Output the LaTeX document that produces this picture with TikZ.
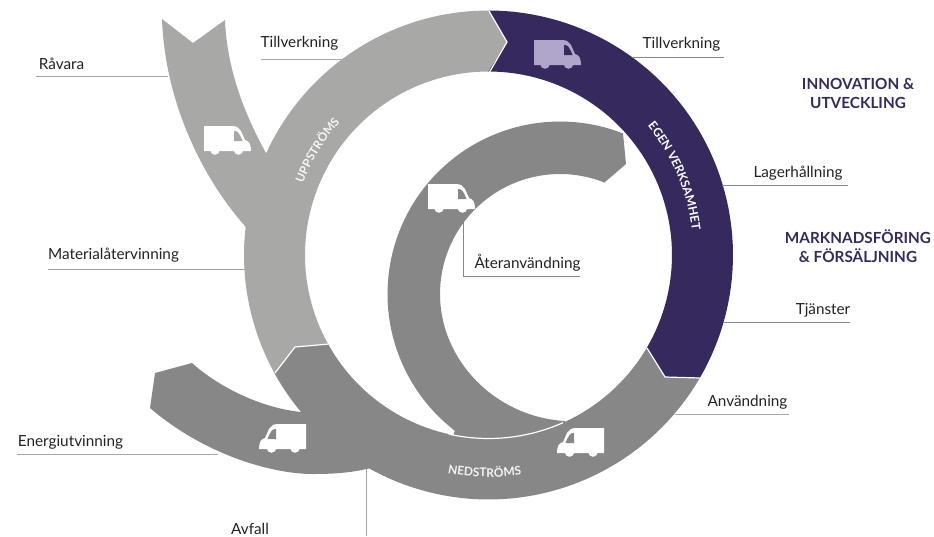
\documentclass[tikz,border=0pt]{standalone}
\usepackage{fontspec}
\setmainfont{Lato}
\usetikzlibrary{decorations.text}
\definecolor{lgrey}{HTML}{A8A8A6}
\definecolor{dgrey}{HTML}{878787}
\definecolor{band}{HTML}{35295E}
\definecolor{lpurple}{HTML}{B0A6CC}
\definecolor{leadg}{HTML}{A6A6A6}
\definecolor{leadp}{HTML}{8A84A8}
\definecolor{ink}{HTML}{222222}
\newcommand{\ringcx}{488.5}
\newcommand{\ringcy}{255}
\newcommand{\spicx}{560}
\newcommand{\spicy}{294}
\tikzset{
  x=1pt,y=-1pt,
  lab/.style={font=\fontsize{15.3}{17}\selectfont,text=ink,inner sep=0pt,anchor=center},
  head/.style={font=\fontsize{15.3}{17}\selectfont\bfseries,text=band,inner sep=0pt,anchor=center},
  leadgrey/.style={draw=leadg,line width=0.9pt},
  leadpurple/.style={draw=leadp,line width=0.9pt},
  sep/.style={draw=white,line width=1.2pt,line join=miter},
  pics/truck/.style 2 args={code={
    \fill[#1] (0,0) -- (28,0) .. controls (33,0) and (35,2) .. (37,5)
      -- (41,14) .. controls (45,15) and (47,18) .. (47,25)
      -- (0,25) -- cycle;
    \fill[#1] (11,24) circle (4.8) (34.5,24) circle (4.8);
    \fill[#2] (30,5) -- (33,5.5) .. controls (35,7) and (37,11) .. (38.5,15) -- (30,15) -- cycle;
  }}
}
\begin{document}
\begin{tikzpicture}
\useasboundingbox (0,0) rectangle (934,536);
% inner spiral
\fill[dgrey] (623,133) -- (626,164) -- (605,182)
  -- plot[domain=-68:-180,samples=50] ({\spicx+120*cos(\x)},{\spicy+120*sin(\x)})
  .. controls (440,360) and (495,417) .. (565,421)
  -- (560,450) -- (470,450) -- (453,436)
  -- plot[domain=-232.4:-68.6,samples=70] ({\spicx+172.5*cos(\x)},{\spicy+172.5*sin(\x)})
  -- cycle;
% upstream
\fill[lgrey] (162,19) -- (193,43) -- (225,20)
  .. controls (227,70) and (245,115) .. (266,153)
  -- plot[domain=-155.4:-90,samples=40] ({\ringcx+244.5*cos(\x)},{\ringcy+244.5*sin(\x)})
  -- (507,42) -- (489,73)
  -- plot[domain=-90:-209.2,samples=60] ({\ringcx+183.5*cos(\x)},{\ringcy+183.5*sin(\x)})
  -- (295,347) -- (275,373)
  -- plot[domain=-209:-173.4,samples=20] ({\ringcx+244.5*cos(\x)},{\ringcy+244.5*sin(\x)})
  .. controls (200,175) and (165,100) .. (162,19) -- cycle;
% own operations
\fill[band] (489,11)
  -- plot[domain=-90:30.2,samples=60] ({\ringcx+244.5*cos(\x)},{\ringcy+244.5*sin(\x)})
  -- (665,377) -- (647,348)
  -- plot[domain=30.4:-90,samples=60] ({\ringcx+183.5*cos(\x)},{\ringcy+183.5*sin(\x)})
  -- (507,42) -- cycle;
% downstream
\fill[dgrey] (700,378)
  -- plot[domain=30.2:119.2,samples=50] ({\ringcx+244.5*cos(\x)},{\ringcy+244.5*sin(\x)})
  .. controls (350,473) and (332,474) .. (313,474)
  .. controls (272,474) and (205,455) .. (150,408)
  -- (155,373) -- (192,363)
  .. controls (220,388) and (262,408) .. (301,412)
  -- plot[domain=140:151,samples=10] ({\ringcx+244.5*cos(\x)},{\ringcy+244.5*sin(\x)})
  -- (295,347) -- (329,344)
  -- plot[domain=150.8:30.4,samples=60] ({\ringcx+183.5*cos(\x)},{\ringcy+183.5*sin(\x)})
  -- (665,377) -- cycle;
% white separators
\draw[sep] (489,11) -- (507,42) -- (489,73);
\draw[sep] (647,348) -- (665,377) -- (700,378);
\draw[sep] (275,373) -- (295,347) -- (329,344);
\draw[sep] plot[domain=102.5:66,samples=30] ({\ringcx+183.5*cos(\x)},{\ringcy+183.5*sin(\x)});
% trucks
\pic at (204,126) {truck={white}{lgrey}};
\pic at (534,40) {truck={lpurple}{band}};
\pic at (428,184) {truck={white}{dgrey}};
\pic[xscale=-1] at (306,424) {truck={white}{dgrey}};
\pic[xscale=-1] at (604,428) {truck={white}{dgrey}};
% curved band texts
\path[decorate,decoration={text along path,text align=center,
  text={|\fontsize{11.8}{13}\selectfont\bfseries\color{white!90!lgrey}|UPPSTRÖMS}}]
  plot[domain=-170:-127,samples=30] ({\ringcx+199*cos(\x)},{\ringcy+199*sin(\x)});
\path[decorate,decoration={text along path,text align=center,
  text={|\fontsize{12}{14}\selectfont\bfseries\color{white}|EGEN VERKSAMHET}}]
  plot[domain=-55:9,samples=40] ({\ringcx+205*cos(\x)},{\ringcy+205*sin(\x)});
\path[decorate,decoration={text along path,text align=center,
  text={|\fontsize{12}{14}\selectfont\bfseries\color{white!90!dgrey}|NEDSTRÖMS}}]
  plot[domain=112:70,samples=30] ({\ringcx+222*cos(\x)},{\ringcy+222*sin(\x)});
% labels
\node[lab] (ravara) at (61.5,64) {Råvara};
\node[lab] (tillv1) at (299.5,43) {Tillverkning};
\node[lab] (tillv2) at (681.5,44) {Tillverkning};
\node[lab] (lager) at (798,173) {Lagerhållning};
\node[lab] (tjanst) at (823,310) {Tjänster};
\node[lab] (anvand) at (747.5,402) {Användning};
\node[lab] (ater) at (527.5,263) {Återanvändning};
\node[lab] (mater) at (113.5,255) {Materialåtervinning};
\node[lab] (energi) at (70.5,442) {Energiutvinning};
\node[lab] (avfall) at (250,529) {Avfall};
\node[head] (inno1) at (858,83.5) {INNOVATION \&};
\node[head] (inno2) at (858,102.5) {UTVECKLING};
\node[head] (mark1) at (858,236.5) {MARKNADSFÖRING};
\node[head] (mark2) at (858,255.5) {\& FÖRSÄLJNING};
% leader lines
\coordinate (ra) at (36,76); \coordinate (rb) at (168,76);
\coordinate (ta) at (261,59); \coordinate (tb) at (344,59);
\coordinate (ua) at (632,57); \coordinate (ub) at (724,57);
\coordinate (la) at (722,185); \coordinate (lb) at (848,185);
\coordinate (ja) at (723,322); \coordinate (jb) at (850,322);
\coordinate (aa) at (675,414); \coordinate (ab) at (789,414);
\coordinate (ea) at (463,220); \coordinate (eb) at (463,276); \coordinate (ec) at (580,276);
\coordinate (ma) at (48,269); \coordinate (mb) at (245,269);
\coordinate (na) at (17,454); \coordinate (nb) at (218,454);
\coordinate (fa) at (366,469); \coordinate (fb) at (366,536);
\draw[leadgrey] (ra) -- (rb);
\draw[leadgrey] (ta) -- (tb);
\draw[leadpurple] (ua) -- (ub);
\draw[leadpurple] (la) -- (lb);
\draw[leadpurple] (ja) -- (jb);
\draw[leadgrey] (aa) -- (ab);
\draw[leadpurple] (ea) -- (eb) -- (ec);
\draw[leadgrey] (ma) -- (mb);
\draw[leadgrey] (na) -- (nb);
\draw[leadgrey] (fa) -- (fb);
\end{tikzpicture}
\end{document}
